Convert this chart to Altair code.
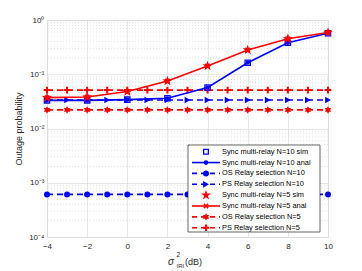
import math
import altair as alt
import pandas as pd

# ---------------- data ----------------
x_even = [-4, -2, 0, 2, 4, 6, 8, 10]
sync10 = [0.033, 0.033, 0.034, 0.036, 0.057, 0.163, 0.38, 0.57]
sync5 = [0.037, 0.038, 0.048, 0.075, 0.142, 0.28, 0.45, 0.59]

x_all = [-4, -3, -2, -1, 0, 1, 2, 3, 4, 5, 6, 7, 8, 9, 10]
os10 = [0.00061, 0.00061, 0.00061, 0.00061, 0.00061, 0.00061, 0.00061, 0.00061,
        0.00061, 0.00061, 0.00061, 0.00061, 0.00061, 0.00061, 0.00061]
ps10 = [0.0335, 0.0335, 0.0335, 0.0335, 0.0335, 0.0335, 0.0335, 0.0335,
        0.0335, 0.0335, 0.0335, 0.0335, 0.0335, 0.0335, 0.0335]
os5 = [0.022, 0.022, 0.022, 0.022, 0.022, 0.022, 0.022, 0.022,
       0.022, 0.022, 0.022, 0.022, 0.022, 0.022, 0.022]
ps5 = [0.051, 0.051, 0.051, 0.051, 0.051, 0.051, 0.051, 0.051,
       0.051, 0.051, 0.051, 0.051, 0.051, 0.051, 0.051]

legend_labels = [
    "Sync multi-relay N=10 sim",
    "Sync multi-relay N=10 anal",
    "OS Relay selection N=10",
    "PS Relay selection N=10",
    "Sync multi-relay N=5 sim",
    "Sync multi-relay N=5 anal",
    "OS Relay selection N=5",
    "PS Relay selection N=5",
]

x_ticks = [-4, -2, 0, 2, 4, 6, 8, 10]
y_ticks = [1e-4, 1e-3, 1e-2, 1e-1, 1]

BLUE = "#0000FF"
RED = "#FF0000"
FONT = "Liberation Sans"
TXT = "#262626"
W, H = 281, 217


# ---------------- marker shapes ----------------
def star_path(n, r_in):
    pts = []
    for i in range(2 * n):
        r = 1.0 if i % 2 == 0 else r_in
        a = -math.pi / 2 + i * math.pi / n
        pts.append((r * math.cos(a), r * math.sin(a)))
    return "M" + "L".join(f"{px:.3f},{py:.3f}" for px, py in pts) + "Z"


STAR = star_path(5, 0.40)
HEXA = star_path(6, 0.577)
XMARK = "M-1,-1L1,1M-1,1L1,-1"
PLUS = "M-1,0L1,0M0,-1L0,1"

xs = alt.Scale(domain=[-4, 10], nice=False, zero=False)
ys = alt.Scale(type="log", domain=[1e-4, 1], nice=False)

X = alt.X("x:Q", scale=xs,
          axis=alt.Axis(values=x_ticks, title=None, labelFont=FONT, labelFontSize=8,
                        labelColor=TXT, ticks=False, domain=False, labelPadding=5,
                        labelFlush=False, gridColor="#dedede", gridWidth=0.7))
Y = alt.Y("y:Q", scale=ys,
          axis=alt.Axis(values=y_ticks, title="Outage probability", labelFont=FONT,
                        labelFontSize=8, labelColor=TXT, ticks=False, domain=False,
                        labelPadding=3, labelFlush=False, gridColor="#dedede", gridWidth=0.7,
                        titleFont=FONT, titleFontSize=9, titleFontWeight="normal",
                        titleColor=TXT, titleX=-29, titleY=H / 2, titleAngle=-90,
                        titleBaseline="middle", titleAlign="center",
                        labelExpr="datum.value >= 0.5 ? '10⁰' : datum.value >= 0.05 ? '10⁻¹' : "
                                  "datum.value >= 0.005 ? '10⁻²' : datum.value >= 0.0005 ? '10⁻³' : '10⁻⁴'"))


def df(xv, yv):
    return pd.DataFrame({"x": xv, "y": yv})


def line(xv, yv, color, dash=None):
    kw = dict(color=color, strokeWidth=1.6, clip=True)
    if dash:
        kw["strokeDash"] = dash
    return alt.Chart(df(xv, yv)).mark_line(**kw).encode(x=X, y=Y)


def pts(xv, yv, shape, color, size, filled, sw=1.2):
    return alt.Chart(df(xv, yv)).mark_point(shape=shape, color=color, size=size,
                                            filled=filled, opacity=1,
                                            strokeWidth=sw).encode(x=X, y=Y)


# minor grid lines (log decades)
minor_vals = [m * 10 ** e for e in range(-4, 0) for m in range(2, 10)]
minor = alt.Chart(pd.DataFrame({"y": minor_vals})).mark_rule(
    color="#d0d0d0", strokeWidth=0.6, strokeDash=[1, 2]).encode(y=Y)

DASH = [6, 4]
layers = [
    minor,
    line(x_all, os10, BLUE, DASH), pts(x_all, os10, "circle", BLUE, 36, True),
    line(x_all, ps10, BLUE, DASH), pts(x_all, ps10, "triangle-right", BLUE, 45, True),
    line(x_all, os5, RED, DASH), pts(x_all, os5, HEXA, RED, 55, True),
    line(x_all, ps5, RED, DASH), pts(x_all, ps5, PLUS, RED, 45, False, 2),
    line(x_even, sync10, BLUE), pts(x_even, sync10, "circle", BLUE, 18, True),
    pts(x_even, sync10, "square", BLUE, 28, False, 1.3),
    line(x_even, sync5, RED), pts(x_even, sync5, XMARK, RED, 20, False, 1.5),
    pts(x_even, sync5, STAR, RED, 110, True),
]

# ---------------- legend ----------------
row_y = [131.7 + 10.86 * i for i in range(len(legend_labels))]
leg = pd.DataFrame({"label": legend_labels, "py": row_y})
PY = alt.Y("py:Q", scale=None)

box = alt.Chart(pd.DataFrame({"a": [0]})).mark_rect(
    fill="white", stroke=TXT, strokeWidth=0.7).encode(
    x=alt.value(141), x2=alt.value(273), y=alt.value(125), y2=alt.value(212))
layers.append(box)

leg_text = alt.Chart(leg).mark_text(align="left", baseline="middle", font=FONT,
                                    fontSize=7.4, color="black").encode(
    x=alt.value(175), y=PY, text="label:N")
layers.append(leg_text)


def leg_line(i, color, dash=None):
    kw = dict(color=color, strokeWidth=1.6)
    if dash:
        kw["strokeDash"] = dash
    return alt.Chart(leg.iloc[[i]]).mark_rule(**kw).encode(
        x=alt.value(145), x2=alt.value(173), y=PY)


def leg_pt(i, shape, color, size, filled, sw=1.2):
    return alt.Chart(leg.iloc[[i]]).mark_point(shape=shape, color=color, size=size,
                                                filled=filled, opacity=1,
                                                strokeWidth=sw).encode(
        x=alt.value(159), y=PY)


layers += [
    leg_pt(0, "square", BLUE, 22, False, 1.3),
    leg_line(1, BLUE), leg_pt(1, "circle", BLUE, 22, True),
    leg_line(2, BLUE, [5, 4]), leg_pt(2, "circle", BLUE, 36, True),
    leg_line(3, BLUE, [5, 4]), leg_pt(3, "triangle-right", BLUE, 45, True),
    leg_pt(4, STAR, RED, 110, True),
    leg_line(5, RED), leg_pt(5, XMARK, RED, 18, False, 1.5),
    leg_line(6, RED, [5, 4]), leg_pt(6, HEXA, RED, 55, True),
    leg_line(7, RED, [5, 4]), leg_pt(7, PLUS, RED, 40, False, 2),
]

# ---------------- x-axis title (sigma^2_IRI (dB)) ----------------
one = pd.DataFrame({"a": [0]})


def label(txt, x, y, size, style="normal"):
    return alt.Chart(one).mark_text(text=txt, align="left", baseline="middle", font=FONT,
                                    fontSize=size, fontStyle=style, color=TXT).encode(
        x=alt.value(x), y=alt.value(y))


layers += [
    label("σ", 121, 242, 10, "italic"),
    label("2", 129.5, 235, 6.5),
    label("IRI", 129.5, 246, 6),
    label("(dB)", 138, 241.5, 9),
]

chart = alt.layer(*layers).properties(
    width=W, height=H, autosize=alt.AutoSizeParams(type="none"),
    padding={"left": 39, "top": 12, "right": 20, "bottom": 34},
).configure_view(stroke=TXT, strokeWidth=0.8).configure(background="white")

chart.save("out.html", embed_options={"renderer": "svg", "actions": False})
